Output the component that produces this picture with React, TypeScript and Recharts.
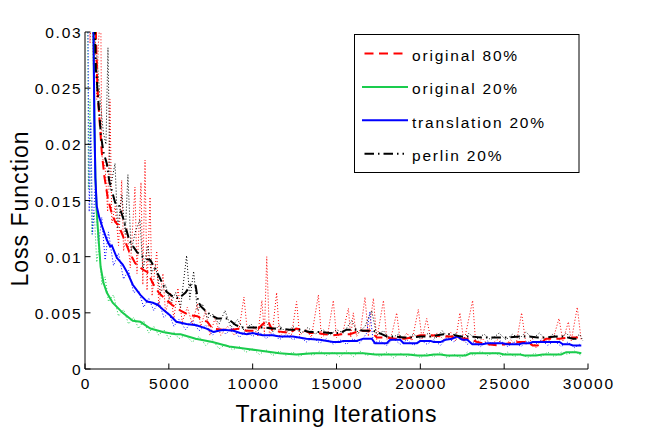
import { LineChart, Line, XAxis, YAxis } from "recharts";

// iterations / loss pairs
const xTicks = [0, 5000, 10000, 15000, 20000, 25000, 30000];
const yTicks = [0, 0.005, 0.01, 0.015, 0.02, 0.025, 0.03];

const seriesNames = ["original 80%", "original 20%", "translation 20%", "perlin 20%"];

// smoothed curves
const orig80: [number, number][] = [
  [500, 0.034], [650, 0.03], [720, 0.026], [800, 0.0235], [900, 0.0215], [1000, 0.0193],
  [1150, 0.0172], [1350, 0.0153], [1550, 0.0141], [1800, 0.0131], [2000, 0.0128], [2300, 0.0117],
  [2650, 0.0104], [3000, 0.0094], [3400, 0.0089], [3750, 0.0086], [4050, 0.0076], [4400, 0.0068],
  [4800, 0.0062], [5200, 0.0057], [5700, 0.0052], [6200, 0.0048], [6700, 0.0047], [7000, 0.0044],
  [7300, 0.0042], [7600, 0.0036], [8200, 0.0035], [8800, 0.0035], [9200, 0.0036], [9600, 0.0034],
  [10200, 0.0034], [10600, 0.004], [10900, 0.0043], [11200, 0.0034], [11800, 0.0033], [12200, 0.0032],
  [12600, 0.0036], [13000, 0.0035], [13400, 0.0032], [13900, 0.0032], [14300, 0.0031], [14800, 0.003],
  [15300, 0.0031], [15800, 0.0031], [16400, 0.0034], [17000, 0.0034], [17400, 0.0028], [18000, 0.0028],
  [18500, 0.0027], [19000, 0.0027], [19500, 0.0028], [20000, 0.003], [20700, 0.003], [21300, 0.0029],
  [21800, 0.0029], [22300, 0.0027], [22900, 0.0027], [23400, 0.0024], [24000, 0.0022], [24700, 0.0021],
  [25300, 0.0023], [25900, 0.0024], [26400, 0.0024], [26700, 0.0021], [27000, 0.0021], [27500, 0.0027],
  [28300, 0.0027], [28800, 0.0028], [29400, 0.0028],
];

const orig20: [number, number][] = [
  [500, 0.031], [560, 0.022], [620, 0.017], [700, 0.014], [800, 0.0118], [930, 0.0091],
  [1100, 0.0077], [1300, 0.0068], [1650, 0.0059], [2250, 0.005], [2850, 0.0043], [3300, 0.0042],
  [3900, 0.0036], [4650, 0.0033], [5400, 0.0031], [5700, 0.0031], [6600, 0.0027], [7600, 0.0024],
  [8600, 0.002], [9600, 0.0018], [10600, 0.0016], [11600, 0.0014], [12600, 0.0013], [13600, 0.0014],
  [14600, 0.0014], [15600, 0.0014], [16600, 0.0014], [17300, 0.0013], [18000, 0.0013], [18500, 0.0013],
  [19300, 0.0013], [19800, 0.0012], [20400, 0.0012], [20800, 0.0013], [21200, 0.0013], [21600, 0.0012],
  [22700, 0.0012], [23000, 0.0014], [24700, 0.0014], [25000, 0.0013], [25900, 0.0013], [26200, 0.0012],
  [26900, 0.0012], [27300, 0.0013], [28400, 0.0013], [28700, 0.0015], [29300, 0.0015], [29600, 0.0014],
];

const trans20: [number, number][] = [
  [500, 0.031], [560, 0.022], [620, 0.017], [700, 0.0145], [850, 0.0135], [1000, 0.0128],
  [1300, 0.0115], [1500, 0.0109], [1600, 0.011], [1900, 0.0099], [2250, 0.0093], [2550, 0.0085],
  [2850, 0.0075], [3300, 0.0066], [3700, 0.006], [4050, 0.0059], [4350, 0.0057], [4650, 0.0053],
  [5050, 0.0048], [5450, 0.0042], [6050, 0.004], [6650, 0.0039], [7250, 0.0036], [7650, 0.0033],
  [8250, 0.0035], [8850, 0.0034], [9250, 0.0032], [9650, 0.0031], [10000, 0.0032], [10600, 0.003],
  [11200, 0.003], [11600, 0.0029], [12400, 0.0029], [13200, 0.0027], [14000, 0.0026], [14800, 0.0024],
  [15200, 0.0024], [15400, 0.0025], [16200, 0.0025], [16600, 0.0027], [17100, 0.0027], [17300, 0.0023],
  [18000, 0.0023], [18200, 0.0026], [18800, 0.0026], [19000, 0.0023], [19800, 0.0023], [20000, 0.0025],
  [20600, 0.0025], [20800, 0.0024], [21200, 0.0024], [21500, 0.0026], [21900, 0.0027], [22200, 0.0029],
  [22500, 0.0026], [22800, 0.0026], [23100, 0.0022], [23700, 0.0022], [24000, 0.0023], [24900, 0.0023],
  [25200, 0.0022], [25900, 0.0022], [26100, 0.0023], [26500, 0.0023], [26700, 0.0024], [27300, 0.0024],
  [27500, 0.0024], [28300, 0.0024], [28500, 0.0022], [28900, 0.0022], [29100, 0.0021], [29600, 0.0021],
];

const perlin20: [number, number][] = [
  [500, 0.034], [600, 0.03], [650, 0.0266], [700, 0.0258], [760, 0.0245], [850, 0.0228],
  [950, 0.0208], [1100, 0.0193], [1300, 0.0183], [1450, 0.0167], [1800, 0.0148], [2000, 0.0147],
  [2300, 0.0133], [2650, 0.0114], [3100, 0.0104], [3600, 0.0098], [3900, 0.0097], [4400, 0.0083],
  [4850, 0.0069], [5200, 0.0065], [5600, 0.0063], [6000, 0.0068], [6300, 0.0075], [6600, 0.0074],
  [6750, 0.006], [6900, 0.0056], [7100, 0.0053], [7500, 0.0048], [7900, 0.0045], [8500, 0.0045],
  [9000, 0.0039], [9400, 0.0037], [10000, 0.0037], [10600, 0.0037], [11200, 0.0036], [11600, 0.0036],
  [12200, 0.0035], [12800, 0.0035], [13400, 0.0033], [14000, 0.0033], [14600, 0.0032], [15200, 0.0032],
  [15600, 0.0035], [16200, 0.0035], [16600, 0.0034], [17200, 0.0034], [17700, 0.0031], [18000, 0.0029],
  [18400, 0.0029], [19000, 0.0028], [19400, 0.0028], [20000, 0.0029], [20600, 0.0029], [21000, 0.003],
  [21400, 0.0031], [21800, 0.0031], [22400, 0.0029], [23000, 0.0029], [23600, 0.0028], [24200, 0.0028],
  [24800, 0.0028], [25200, 0.0028], [25900, 0.0029], [26500, 0.0029], [27000, 0.0028], [27500, 0.0028],
  [28100, 0.0029], [28500, 0.0029], [29100, 0.0027], [29500, 0.0027],
];

// raw (unsmoothed) losses, drawn dotted
const orig80Raw: [number, number][] = [
  [100, 0.045], [300, 0.029], [400, 0.034], [500, 0.027], [600, 0.031], [700, 0.024], [800, 0.029],
  [940, 0.032], [1000, 0.019], [1200, 0.018], [1350, 0.014], [1490, 0.024], [1600, 0.013], [1800, 0.0145],
  [2000, 0.011], [2190, 0.0168], [2300, 0.0105], [2500, 0.0125], [2700, 0.009], [2980, 0.0162],
  [3100, 0.0085], [3340, 0.0166], [3450, 0.0075], [3580, 0.0186], [3700, 0.007], [3880, 0.0153],
  [4000, 0.0065], [4280, 0.0105], [4400, 0.0055], [4650, 0.0085], [4800, 0.005], [5100, 0.0068],
  [5300, 0.0045], [5540, 0.0072], [5800, 0.0042], [6100, 0.0055], [6400, 0.004], [6700, 0.0058],
  [6900, 0.0038], [7200, 0.0052], [7450, 0.003], [7750, 0.0045], [8100, 0.003], [8500, 0.0038],
  [8900, 0.003], [9200, 0.0036], [9480, 0.0064], [9700, 0.0031], [10100, 0.0037], [10300, 0.0029],
  [10550, 0.0061], [10700, 0.0031], [10840, 0.01], [11000, 0.003], [11200, 0.0036], [11430, 0.0068],
  [11600, 0.0029], [12000, 0.0035], [12300, 0.0029], [12620, 0.006], [12800, 0.003], [13200, 0.0035],
  [13500, 0.0028], [13920, 0.0066], [14100, 0.0028], [14500, 0.0033], [14810, 0.0061], [15000, 0.0028],
  [15400, 0.0034], [15710, 0.0054], [15850, 0.0028], [16000, 0.005], [16200, 0.0029], [16450, 0.0036],
  [16700, 0.0064], [16900, 0.0029], [17200, 0.0063], [17400, 0.0026], [17800, 0.0061], [18000, 0.0026],
  [18300, 0.0031], [18590, 0.005], [18800, 0.0025], [19200, 0.0032], [19500, 0.0025], [19880, 0.0053],
  [20100, 0.0027], [20380, 0.0045], [20600, 0.0028], [21000, 0.0032], [21400, 0.0026], [21800, 0.0033],
  [22100, 0.0025], [22360, 0.005], [22600, 0.0024], [23120, 0.0061], [23300, 0.0023], [23700, 0.0027],
  [24100, 0.0021], [24600, 0.0026], [25000, 0.0021], [25400, 0.0026], [25700, 0.0021], [26040, 0.005],
  [26300, 0.0022], [26700, 0.0027], [26900, 0.0019], [27300, 0.0028], [27600, 0.0024], [28000, 0.0031],
  [28270, 0.0045], [28500, 0.0025], [28830, 0.0042], [29000, 0.0025], [29360, 0.0055], [29600, 0.0025],
];

const orig20Raw: [number, number][] = [
  [100, 0.05], [200, 0.016], [300, 0.024], [400, 0.012], [550, 0.014], [700, 0.0095], [850, 0.011],
  [1000, 0.0075], [1200, 0.0082], [1400, 0.006], [1700, 0.0066], [2000, 0.0047], [2300, 0.0053],
  [2600, 0.004], [2900, 0.0046], [3200, 0.0036], [3500, 0.0043], [3800, 0.0032], [4100, 0.0038],
  [4400, 0.003], [4700, 0.0035], [5000, 0.0027], [5300, 0.0033], [5600, 0.0027], [6000, 0.003],
  [6400, 0.0024], [6800, 0.0029], [7200, 0.0021], [7600, 0.0026], [8000, 0.0018], [8400, 0.0022],
  [8800, 0.0017], [9200, 0.002], [9600, 0.0015], [10000, 0.0018], [10400, 0.0013], [10800, 0.0017],
  [11200, 0.0012], [11600, 0.0016], [12000, 0.0012], [12400, 0.0015], [12800, 0.0011], [13200, 0.0015],
  [13600, 0.0012], [14000, 0.0016], [14400, 0.0012], [14800, 0.0015], [15200, 0.0011], [15600, 0.0016],
  [16000, 0.0011], [16400, 0.0016], [16800, 0.0012], [17200, 0.0014], [17600, 0.0011], [18000, 0.0015],
  [18400, 0.001], [18800, 0.0014], [19200, 0.0011], [19600, 0.0014], [20000, 0.001], [20400, 0.0014],
  [20800, 0.0011], [21200, 0.0015], [21600, 0.001], [22000, 0.0013], [22400, 0.001], [22800, 0.0015],
  [23200, 0.0012], [23600, 0.0016], [24000, 0.0012], [24400, 0.0015], [24800, 0.0011], [25200, 0.0015],
  [25600, 0.0011], [26000, 0.0014], [26400, 0.001], [26800, 0.0014], [27200, 0.0011], [27600, 0.0015],
  [28000, 0.0011], [28400, 0.0015], [28800, 0.0013], [29200, 0.0016], [29600, 0.0012],
];

const trans20Raw: [number, number][] = [
  [100, 0.05], [250, 0.014], [350, 0.022], [450, 0.012], [600, 0.016], [800, 0.011], [1000, 0.0135],
  [1200, 0.0097], [1400, 0.0122], [1700, 0.0092], [2000, 0.0103], [2300, 0.008], [2600, 0.0088],
  [2900, 0.0068], [3200, 0.007], [3500, 0.0055], [3800, 0.0063], [4100, 0.0052], [4400, 0.006],
  [4700, 0.0046], [5000, 0.005], [5300, 0.0038], [5600, 0.0044], [6000, 0.0035], [6400, 0.0043],
  [6800, 0.0034], [7200, 0.0039], [7600, 0.003], [8000, 0.0037], [8400, 0.0031], [8800, 0.0037],
  [9200, 0.0028], [9600, 0.0034], [10000, 0.0029], [10400, 0.0033], [10800, 0.0027], [11200, 0.0032],
  [11600, 0.0026], [12000, 0.0031], [12400, 0.0026], [12800, 0.0029], [13200, 0.0024], [13600, 0.0028],
  [14000, 0.0023], [14400, 0.0027], [14800, 0.0022], [15200, 0.0026], [15600, 0.0022], [16000, 0.0027],
  [16400, 0.0023], [16800, 0.0032], [16990, 0.0051], [17200, 0.0023], [17600, 0.0025], [18000, 0.0021],
  [18400, 0.0027], [18800, 0.0022], [19200, 0.0026], [19600, 0.0021], [20000, 0.0026], [20400, 0.0022],
  [20800, 0.0026], [21200, 0.0021], [21600, 0.0028], [22000, 0.0024], [22400, 0.003], [22800, 0.0022],
  [23200, 0.0024], [23600, 0.002], [24000, 0.0025], [24400, 0.0021], [24800, 0.0025], [25200, 0.002],
  [25600, 0.0024], [26000, 0.002], [26400, 0.0025], [26800, 0.0021], [27200, 0.0026], [27600, 0.0021],
  [28000, 0.0025], [28400, 0.002], [28800, 0.0024], [29200, 0.0019], [29600, 0.0023],
];

const perlin20Raw: [number, number][] = [
  [100, 0.05], [300, 0.031], [500, 0.03], [700, 0.028], [900, 0.024], [1100, 0.021], [1250, 0.02],
  [1370, 0.0286], [1500, 0.016], [1790, 0.0183], [1950, 0.0125], [2200, 0.0155], [2400, 0.012],
  [2560, 0.0173], [2750, 0.0105], [3000, 0.0122], [3280, 0.0133], [3450, 0.0088], [3760, 0.011],
  [3950, 0.0085], [4200, 0.0092], [4500, 0.0068], [4800, 0.0075], [5100, 0.0058], [5400, 0.0068],
  [5700, 0.0055], [6060, 0.0101], [6250, 0.0062], [6480, 0.0087], [6700, 0.0052], [7000, 0.0058],
  [7300, 0.0045], [7600, 0.0049], [8000, 0.004], [8350, 0.0052], [8700, 0.0037], [9100, 0.0044],
  [9500, 0.0034], [9900, 0.004], [10300, 0.0034], [10800, 0.0042], [11200, 0.0033], [11600, 0.0039],
  [12000, 0.0032], [12400, 0.0038], [12900, 0.0032], [13300, 0.0037], [13700, 0.0031], [14200, 0.0035],
  [14600, 0.003], [15000, 0.0035], [15400, 0.0032], [15900, 0.0043], [16300, 0.0032], [16700, 0.0038],
  [17100, 0.0052], [17400, 0.003], [17800, 0.0034], [18200, 0.0027], [18700, 0.0031], [19100, 0.0026],
  [19600, 0.0031], [20000, 0.0027], [20500, 0.0032], [20900, 0.0027], [21300, 0.0034], [21700, 0.0028],
  [22100, 0.0032], [22500, 0.0026], [22900, 0.0032], [23300, 0.0026], [23800, 0.0031], [24200, 0.0026],
  [24700, 0.0032], [25100, 0.0026], [25500, 0.0031], [25900, 0.0027], [26300, 0.0033], [26700, 0.0027],
  [27100, 0.0032], [27500, 0.0026], [27900, 0.0031], [28300, 0.0026], [28700, 0.0032], [29100, 0.0026],
  [29500, 0.0031], [29700, 0.0025],
];

const RED = "#ff0000";
const GREEN = "#1acc4d";
const BLUE = "#0000ff";
const BLACK = "#000000";

const FONT = "'Liberation Sans', Arial, Helvetica, sans-serif";

const toPts = (arr: [number, number][]) => arr.map(([x, y]) => ({ x, y }));

function XTick(props: any) {
  const { x, y, payload } = props;
  return (
    <g>
      <line x1={x} x2={x} y1={y} y2={y - 5.5} stroke="#000" />
      <text x={x + 0.9} y={y + 20} textAnchor="middle" fontSize={15.5} letterSpacing={1.8} fontFamily={FONT} fill="#000">
        {payload.value}
      </text>
    </g>
  );
}

function YTick(props: any) {
  const { x, y, payload } = props;
  return (
    <g>
      <line x1={x} x2={x + 5.5} y1={y} y2={y} stroke="#000" />
      <text x={x - 2.5} y={y + 6} textAnchor="end" fontSize={15.5} letterSpacing={1.8} fontFamily={FONT} fill="#000">
        {String(payload.value)}
      </text>
    </g>
  );
}

const legendRows = [
  { name: seriesNames[0], color: RED, dash: "9 5.5" },
  { name: seriesNames[1], color: GREEN, dash: undefined },
  { name: seriesNames[2], color: BLUE, dash: undefined },
  { name: seriesNames[3], color: BLACK, dash: "9.5 4 1.5 4" },
];

export default function App() {
  return (
    <div style={{ position: "absolute", left: 0, top: 0, width: 650, height: 431, background: "#fff" }}>
      <LineChart width={650} height={431} margin={{ top: 32, right: 62, bottom: 0, left: 0 }}>
        <XAxis
          dataKey="x"
          type="number"
          domain={[0, 30000]}
          ticks={xTicks}
          interval={0}
          allowDataOverflow
          height={62}
          tickSize={0}
          tickMargin={0}
          tickLine={false}
          axisLine={{ stroke: "#000" }}
          tick={<XTick />}
          label={{
            value: "Training Iterations",
            position: "insideBottom",
            offset: 9.5,
            style: { fontSize: 23, letterSpacing: 1, fontFamily: FONT, fill: "#000" },
          }}
        />
        <YAxis
          type="number"
          domain={[0, 0.03]}
          ticks={yTicks}
          interval={0}
          allowDataOverflow
          width={85}
          tickSize={0}
          tickMargin={0}
          tickLine={false}
          axisLine={{ stroke: "#000" }}
          tick={<YTick />}
          label={{
            value: "Loss Function",
            angle: -90,
            position: "insideLeft",
            offset: 20,
            dy: 8,
            style: { fontSize: 23, letterSpacing: 1, fontFamily: FONT, fill: "#000", textAnchor: "middle" },
          }}
        />
        <Line data={toPts(orig80Raw)} dataKey="y" stroke={RED} strokeWidth={1} strokeDasharray="1 2" dot={false} activeDot={false} isAnimationActive={false} />
        <Line data={toPts(orig20Raw)} dataKey="y" stroke={GREEN} strokeWidth={1} strokeDasharray="1 2" dot={false} activeDot={false} isAnimationActive={false} />
        <Line data={toPts(trans20Raw)} dataKey="y" stroke={BLUE} strokeWidth={1} strokeDasharray="1 2" dot={false} activeDot={false} isAnimationActive={false} />
        <Line data={toPts(perlin20Raw)} dataKey="y" stroke={BLACK} strokeWidth={1} strokeDasharray="1 2" dot={false} activeDot={false} isAnimationActive={false} />
        <Line data={toPts(orig80)} dataKey="y" name={seriesNames[0]} stroke={RED} strokeWidth={2} strokeDasharray="9 5.5" dot={false} activeDot={false} isAnimationActive={false} />
        <Line data={toPts(orig20)} dataKey="y" name={seriesNames[1]} stroke={GREEN} strokeWidth={2} dot={false} activeDot={false} isAnimationActive={false} />
        <Line data={toPts(trans20)} dataKey="y" name={seriesNames[2]} stroke={BLUE} strokeWidth={2} dot={false} activeDot={false} isAnimationActive={false} />
        <Line data={toPts(perlin20)} dataKey="y" name={seriesNames[3]} stroke={BLACK} strokeWidth={2} strokeDasharray="9.5 4 1.5 4" dot={false} activeDot={false} isAnimationActive={false} />
      </LineChart>
      <svg width={650} height={431} style={{ position: "absolute", left: 0, top: 0, pointerEvents: "none" }}>
        <rect x={354.5} y={34.5} width={224.5} height={138} fill="#fff" stroke="#000" />
        {legendRows.map((r, i) => {
          const base = 61 + i * 33.4;
          return (
            <g key={r.name}>
              <line x1={r.dash ? 364.5 : 362} x2={r.dash ? 404 : 408} y1={base - 7.5} y2={base - 7.5} stroke={r.color} strokeWidth={2} strokeDasharray={r.dash} />
              <text x={412} y={base} fontSize={15.5} letterSpacing={1.8} fontFamily={FONT} fill="#000">
                {r.name}
              </text>
            </g>
          );
        })}
      </svg>
    </div>
  );
}
